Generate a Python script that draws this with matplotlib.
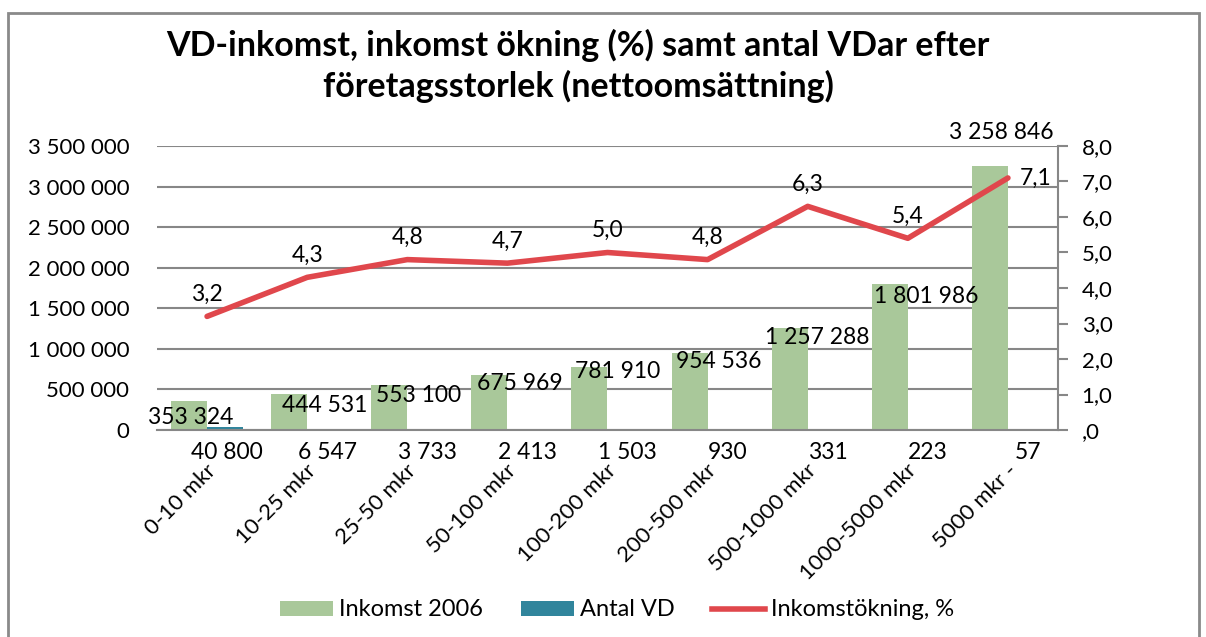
import matplotlib
matplotlib.use("Agg")
import matplotlib.pyplot as plt
import numpy as np
from matplotlib.patches import Rectangle, Patch
from matplotlib.lines import Line2D
from matplotlib.ticker import FuncFormatter, MultipleLocator
from matplotlib.transforms import ScaledTranslation

plt.rcParams['font.family'] = ['Lato', 'DejaVu Sans']

categories = ["0-10 mkr", "10-25 mkr", "25-50 mkr", "50-100 mkr", "100-200 mkr",
              "200-500 mkr", "500-1000 mkr", "1000-5000 mkr", "5000 mkr -"]
inkomst_2006 = [353324, 444531, 553100, 675969, 781910, 954536, 1257288, 1801986, 3258846]
antal_vd = [40800, 6547, 3733, 2413, 1503, 930, 331, 223, 57]
inkomstokning = [3.2, 4.3, 4.8, 4.7, 5.0, 4.8, 6.3, 5.4, 7.1]

title = "VD-inkomst, inkomst ökning (%) samt antal VDar efter\nföretagsstorlek (nettoomsättning)"

GREEN = "#A9C89A"
BLUE = "#31859C"
RED = "#E0474C"
GRID = "#878787"
FS = 16

def sp(n):
    return f"{n:,}".replace(",", " ")

fig = plt.figure(figsize=(12.06, 6.37), dpi=100)
fig.patches.append(Rectangle((8/1206, -0.01), (1199-8)/1206, 1 - 13/637 + 0.01,
                             transform=fig.transFigure, fill=False,
                             edgecolor="#8a8a8a", linewidth=2))

ax = fig.add_axes([157/1206, 1 - 430/637, (1058-157)/1206, (430-146)/637])
ax2 = ax.twinx()

x = np.arange(len(categories))
w = 0.36
ax.bar(x - w/2, inkomst_2006, width=w, color=GREEN, zorder=2)
ax.bar(x + w/2, antal_vd, width=w, color=BLUE, zorder=2)

ax.set_xlim(-0.5, len(categories) - 0.5)
ax.set_ylim(0, 3500000)
ax.yaxis.set_major_locator(MultipleLocator(500000))
ax.yaxis.set_major_formatter(FuncFormatter(lambda v, p: sp(int(v))))
ax.grid(axis='y', color=GRID, linewidth=1.5, zorder=0)
ax.set_axisbelow(True)
for s in ['top', 'left', 'right']:
    ax.spines[s].set_visible(False)
ax.spines['bottom'].set_color(GRID)
ax.spines['bottom'].set_linewidth(1.5)
ax.tick_params(axis='y', length=0, pad=20, labelsize=FS)
ax.tick_params(axis='x', length=0, pad=27, labelsize=FS)
ax.set_xticks(x)
ax.set_xticklabels(categories, rotation=45, ha='right', va='center',
                   rotation_mode='anchor')
shift = ScaledTranslation(6/100, 0, fig.dpi_scale_trans)
for lbl in ax.get_xticklabels():
    lbl.set_transform(lbl.get_transform() + shift)

ax2.plot(x, inkomstokning, color=RED, linewidth=4, solid_capstyle='round', zorder=3)
ax2.set_ylim(0, 8)
ax2.yaxis.set_major_locator(MultipleLocator(1))
def rfmt(v, p):
    s = f"{v:.1f}".replace(".", ",")
    return s[1:] if s.startswith("0,") else s
ax2.yaxis.set_major_formatter(FuncFormatter(rfmt))
for s in ['top', 'left', 'bottom']:
    ax2.spines[s].set_visible(False)
ax2.spines['right'].set_color(GRID)
ax2.spines['right'].set_linewidth(1.5)
ax2.tick_params(axis='y', length=7, width=1.5, color=GRID, pad=10, labelsize=FS)

LFS = 16.5
# data labels: inkomst
gx_off = [-0.16, 0.18, 0.11, 0.12, 0.10, 0.11, 0.10, 0.18, -0.07]
gy_off = [-16, -12, -10, -8, -5, -9, -10, -13, 33]
for i, v in enumerate(inkomst_2006):
    ax.annotate(sp(v), (x[i] + gx_off[i], v), xytext=(0, gy_off[i] * 0.72),
                textcoords='offset points', ha='center', va='center',
                fontsize=LFS, zorder=5)
# data labels: antal VD
for i, v in enumerate(antal_vd):
    ax.annotate(sp(v), (x[i] + w/2 + 0.02, 0), xytext=(0, -16),
                textcoords='offset points', ha='center', va='center',
                fontsize=LFS, zorder=5)
# data labels: line
for i, v in enumerate(inkomstokning):
    lab = f"{v:.1f}".replace(".", ",")
    if i == len(inkomstokning) - 1:
        ax2.annotate(lab, (x[i], v), xytext=(20, 0), textcoords='offset points',
                     ha='center', va='center', fontsize=LFS, zorder=5)
    else:
        ax2.annotate(lab, (x[i], v), xytext=(0, 16), textcoords='offset points',
                     ha='center', va='center', fontsize=LFS, zorder=5)

fig.text(578/1206, 1 - 66/637, title, ha='center', va='center', fontsize=24.5,
         fontweight='bold', linespacing=1.32)

handles = [Patch(facecolor=GREEN, label="Inkomst 2006"),
           Patch(facecolor=BLUE, label="Antal VD"),
           Line2D([0], [0], color=RED, linewidth=4, label="Inkomstökning, %")]
fig.legend(handles=handles, loc='center', bbox_to_anchor=(617/1206, 1 - 610/637),
           ncol=3, frameon=False, fontsize=17, handlelength=2.25, handleheight=0.6,
           handletextpad=0.25, columnspacing=1.6)

fig.savefig("out.png", dpi=100)
